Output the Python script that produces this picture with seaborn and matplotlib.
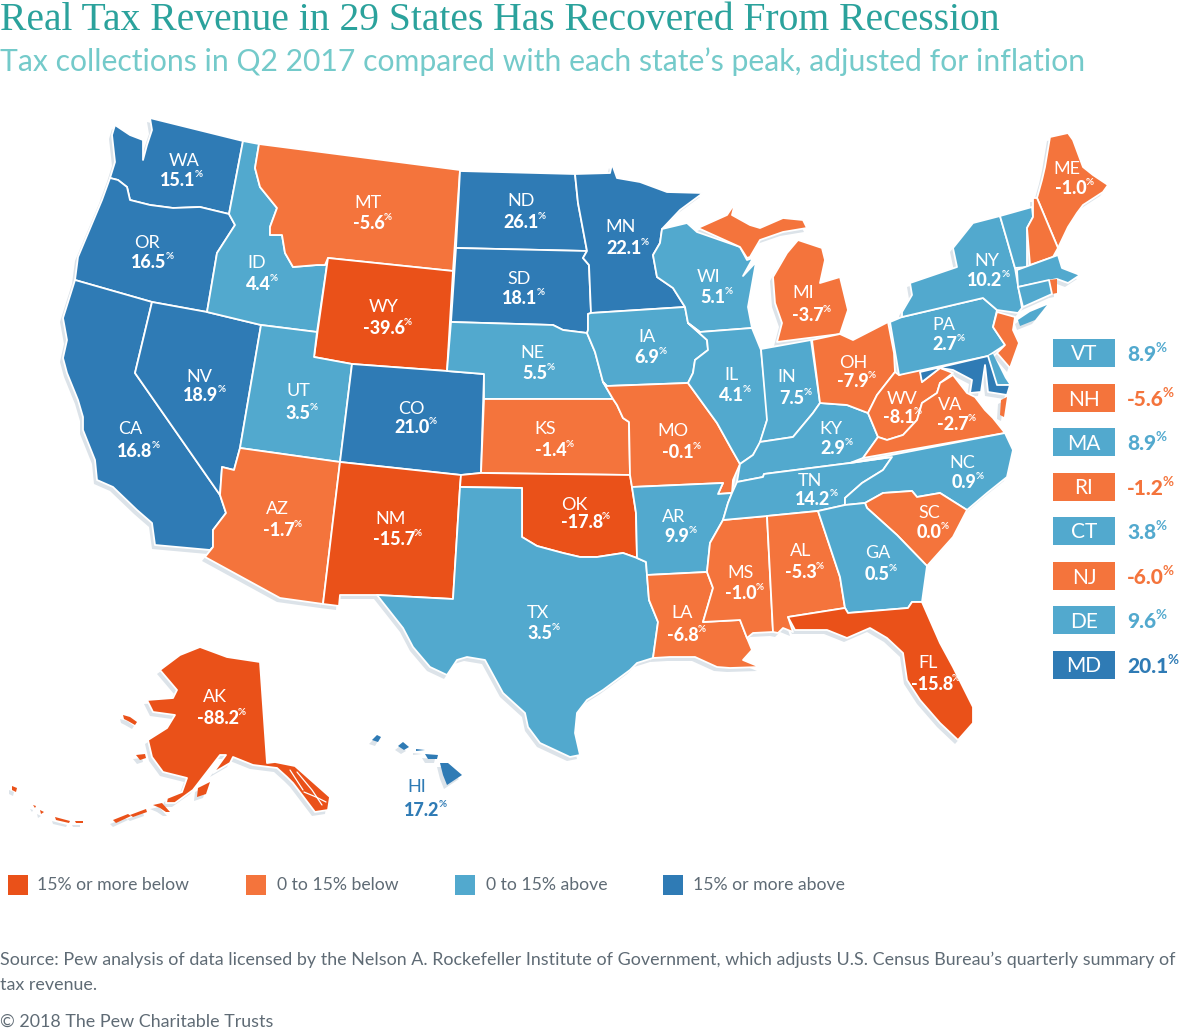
import numpy as np
import pandas as pd
import seaborn as sns
import matplotlib.pyplot as plt

# Values
states = ["WA", "OR", "CA", "NV", "ID", "MT", "WY", "UT", "CO", "AZ", "NM", "ND", "SD", "NE", "KS", "OK", "TX",
          "MN", "IA", "MO", "AR", "LA", "WI", "IL", "MS", "MI", "IN", "KY", "TN", "AL", "OH", "WV", "VA", "NC",
          "SC", "GA", "FL", "PA", "NY", "ME", "AK", "HI", "VT", "NH", "MA", "RI", "CT", "NJ", "DE", "MD"]
values = [15.1, 16.5, 16.8, 18.9, 4.4, -5.6, -39.6, 3.5, 21.0, -1.7, -15.7, 26.1, 18.1, 5.5, -1.4, -17.8, 3.5,
          22.1, 6.9, -0.1, 9.9, -6.8, 5.1, 4.1, -1.0, -3.7, 7.5, 2.9, 14.2, -5.3, -7.9, -8.1, -2.7, 0.9,
          0.0, 0.5, -15.8, 2.7, 10.2, -1.0, -88.2, 17.2, 8.9, -5.6, 8.9, -1.2, 3.8, -6.0, 9.6, 20.1]
side_states = ["VT", "NH", "MA", "RI", "CT", "NJ", "DE", "MD"]
bin_edges = [-100, -15, 0, 15, 100]
bin_labels = ["15% or more below", "0 to 15% below", "0 to 15% above", "15% or more above"]
bin_colors = ["#EA5119", "#F4743C", "#52A9CE", "#2F7BB5"]

# State outlines, in pixels
WA = [[(115,125),(130,135),(143,140),(143,160),(147,145),(152,130),(150,118),(243,141),(229,214),(200,207),(173,208),(150,205),(130,200),(127,187),(118,180),(110,178),(115,162),(112,135)]]
OR = [[(110,178),(118,180),(127,187),(130,200),(150,205),(173,208),(200,207),(229,214),(235,225),(217,253),(207,312),(152,302),(75,280),(78,257),(102,200)]]
CA = [[(75,280),(152,302),(135,373),(220,495),(226,513),(213,530),(213,547),(210,550),(155,545),(152,523),(137,510),(113,487),(97,480),(95,460),(83,430),(83,417),(78,400),(67,373),(63,358),(67,340),(63,318)]]
NV = [[(152,302),(207,312),(261,325),(240,448),(234,470),(222,467),(220,495),(135,373)]]
ID = [[(243,141),(259,144),(255,168),(260,187),(277,208),(270,227),(270,235),(282,235),(285,253),(293,267),(317,265),(325,265),(328,258),(317,332),(261,325),(207,312),(217,253),(235,225),(229,214)]]
MT = [[(259,144),(460,170),(453,271),(328,258),(325,265),(317,265),(293,267),(285,253),(282,235),(270,235),(270,227),(277,208),(260,187),(255,168)]]
WY = [[(328,258),(453,271),(447,371),(352,364),(314,357)]]
UT = [[(261,325),(317,332),(314,357),(352,364),(340,462),(240,448)]]
CO = [[(352,364),(447,371),(484,374),(481,473),(461,475),(340,462)]]
AZ = [[(240,448),(340,462),(323,604),(280,598),(205,557),(213,547),(213,530),(226,513),(220,495),(222,467),(234,470)]]
NM = [[(340,462),(461,475),(460,487),(453,599),(377,595),(340,595),(339,606),(323,604)]]
ND = [[(460,171),(575,174),(578,203),(587,251),(456,248)]]
SD = [[(456,248),(587,251),(583,258),(589,265),(591,313),(588,314),(588,330),(587,333),(563,330),(553,325),(451,322)]]
NE = [[(451,322),(553,325),(563,330),(587,333),(595,352),(603,382),(613,399),(484,399),(484,374),(447,371)]]
KS = [[(484,399),(613,399),(617,405),(623,418),(629,422),(630,475),(481,473),(484,399)]]
OK = [[(461,475),(481,473),(630,475),(632,487),(636,513),(637,558),(623,553),(597,557),(580,557),(563,553),(537,546),(522,537),(522,488),(460,487)]]
TX = [[(460,487),(522,488),(522,537),(537,546),(563,553),(580,557),(597,557),(623,553),(637,558),(646,562),(647,575),(649,600),(658,622),(653,658),(637,663),(630,670),(603,690),(587,700),(577,713),(575,733),(580,755),(570,757),(540,743),(528,727),(525,713),(503,693),(485,660),(467,657),(457,660),(447,675),(430,667),(413,647),(403,628),(377,595),(453,599)]]
MN = [[(575,174),(610,173),(612,164),(617,178),(640,182),(667,192),(703,193),(680,210),(662,229),(660,243),(653,255),(657,277),(673,288),(685,307),(591,313),(589,265),(583,258),(587,251),(578,203)]]
IA = [[(588,314),(591,313),(685,307),(688,323),(707,340),(708,350),(695,360),(693,373),(688,383),(607,386),(603,382),(595,352),(587,333),(588,330)]]
MO = [[(607,386),(688,383),(717,423),(732,450),(740,464),(733,480),(732,493),(718,494),(723,483),(632,487),(630,475),(629,422),(623,418),(617,405),(613,399),(603,382)]]
AR = [[(632,487),(723,483),(718,494),(732,493),(728,503),(723,520),(710,543),(707,572),(647,575),(646,562),(637,558),(636,513)]]
LA = [[(647,575),(707,572),(713,588),(703,622),(740,620),(747,638),(752,650),(743,660),(760,667),(730,668),(717,667),(695,657),(670,657),(653,658),(658,622),(649,600)]]
WI = [[(662,229),(687,223),(697,232),(740,247),(747,260),(753,258),(743,276),(756,262),(748,307),(752,328),(700,332),(688,323),(685,307),(673,288),(657,277),(653,255),(660,243)]]
IL = [[(700,332),(752,328),(761,350),(768,417),(760,443),(753,455),(740,464),(732,450),(717,423),(688,383),(693,373),(695,360),(708,350),(707,340),(688,323)]]
MS = [[(723,520),(767,516),(773,632),(753,633),(747,638),(740,620),(703,622),(713,588),(707,572),(710,543)]]
MI = [[(698,228),(727,215),(735,203),(732,215),(750,225),(760,228),(783,218),(803,220),(807,228),(783,232),(760,240),(750,257),(747,258),(740,247)],
      [(777,342),(840,334),(848,310),(840,277),(830,280),(820,283),(825,260),(822,248),(798,240),(787,253),(773,277),(775,303),(782,323)]]
IN = [[(761,349),(811,340),(820,403),(813,413),(793,437),(760,442),(767,420)]]
KY = [[(740,464),(753,455),(760,442),(793,437),(813,413),(820,403),(847,405),(868,413),(878,437),(863,458),(850,463),(764,474),(763,477),(737,482)]]
TN = [[(723,520),(728,503),(732,493),(737,482),(763,477),(764,474),(850,463),(892,457),(883,470),(862,483),(845,498),(845,505),(818,511),(767,516)]]
AL = [[(767,516),(818,511),(840,577),(845,608),(788,617),(793,632),(783,628),(778,633),(773,632)]]
OH = [[(812,340),(840,334),(853,340),(888,322),(894,353),(895,372),(877,395),(868,413),(847,405),(820,403)]]
WV = [[(895,372),(899,375),(920,368),(922,382),(940,368),(953,373),(940,383),(937,393),(922,403),(917,420),(903,435),(887,440),(878,437),(868,413),(877,395)]]
VA = [[(863,458),(1005,433),(993,418),(985,410),(975,397),(967,393),(953,375),(940,383),(937,393),(922,403),(917,420),(903,435),(887,440),(878,437)],
      [(1007,397),(1004,417),(1000,415),(1001,400)]]
NC = [[(850,463),(1005,433),(1013,450),(1007,477),(987,493),(967,510),(940,493),(917,497),(912,491),(883,493),(865,503),(845,505),(845,498),(862,483),(883,470),(892,457)]]
SC = [[(865,503),(883,493),(912,491),(917,497),(940,493),(967,510),(953,537),(927,566),(897,535),(867,508)]]
GA = [[(818,511),(845,505),(865,503),(867,508),(897,535),(927,566),(922,602),(912,602),(908,608),(848,613),(845,608),(840,577)]]
FL = [[(788,617),(845,608),(848,613),(908,608),(912,602),(922,602),(940,643),(953,667),(973,707),(973,723),(958,740),(940,723),(920,700),(907,680),(903,653),(887,638),(870,628),(847,638),(827,630),(795,630)]]
PA = [[(890,322),(902,317),(983,298),(997,310),(993,327),(1005,345),(988,356),(899,375)]]
NY = [[(902,317),(902,312),(912,295),(910,283),(957,267),(953,248),(973,223),(1000,216),(1007,240),(1015,268),(1022,308),(1018,313),(997,310),(983,298)],
      [(1018,320),(1030,312),(1047,305),(1035,320),(1020,326)]]
VT = [[(1000,216),(1032,207),(1033,217),(1027,228),(1027,267),(1015,268),(1007,240)]]
NH = [[(1033,198),(1037,198),(1058,248),(1053,257),(1030,265),(1027,228),(1033,217)]]
ME = [[(1037,198),(1042,180),(1045,167),(1050,137),(1068,133),(1073,140),(1083,167),(1093,175),(1108,185),(1103,192),(1083,205),(1077,213),(1068,227),(1058,248)]]
MA = [[(1017,270),(1058,255),(1062,268),(1080,275),(1068,283),(1057,279),(1018,287)]]
CT = [[(1018,287),(1049,280),(1052,294),(1023,307)]]
RI = [[(1049,280),(1057,279),(1057,293),(1052,294)]]
NJ = [[(997,312),(1015,317),(1013,330),(1019,343),(1010,368),(997,353),(1005,345),(993,327)]]
DE = [[(988,356),(993,354),(1005,378),(1009,384),(997,385),(993,372)]]
MD = [[(920,372),(988,356),(993,372),(997,385),(1010,385),(1007,395),(988,392),(985,365),(981,392),(970,393),(972,380),(953,370),(940,368),(922,382)]]
AK = [[(200,647),(180,655),(160,670),(177,690),(173,698),(147,700),(153,712),(175,715),(167,728),(148,740),(152,757),(163,772),(187,778),(182,792),(167,798),(166,803),(175,803),(193,790),(203,777),(220,755),(226,755),(213,773),(230,763),(233,757),(253,765),(277,768),(287,777),(293,783),(315,812),(328,810),(330,797),(295,766),(275,762),(267,763),(260,662),(227,657)],
      [(210,782),(206,794),(197,797),(198,788)],
      [(123,715),(130,717),(137,722),(135,725),(128,721),(124,719)],
      [(136,755),(145,754),(146,758),(140,760)],
      [(113,820),(128,814),(131,816),(116,823)],
      [(130,815),(146,809),(147,812),(133,817)],
      [(55,817),(70,821),(69,823),(56,820)],
      [(75,821),(83,821),(83,823),(76,823)],
      [(153,805),(162,803),(170,812),(166,812),(160,808)],
      [(12,786),(17,788),(16,792),(12,790)],
      [(33,805),(36,806),(35,808)],
      [(40,810),(44,812),(41,814)]]
HI = [[(440,763),(448,763),(462,775),(447,785),(443,775)],
      [(425,754),(438,755),(437,759),(428,759)],
      [(416,749),(425,750),(416,751)],
      [(398,746),(403,742),(409,747),(404,750)],
      [(372,740),(377,735),(381,737),(378,742)]]
# inner waterways of the Alaska panhandle, white strokes over the land
AK_CHANNELS = [[(297,772),(312,790),(322,805)], [(304,792),(316,797),(326,802)], [(290,770),(303,790)]]

# Where each label sits, abbreviation first, then the value
label_xy = {"WA": (184,160,178,179), "OR": (147,241,149,261), "ID": (257,261,258,283), "MT": (368,201,369,222),
            "WY": (384,305,384,327), "ND": (521,200,521,221), "SD": (519,277,520,297), "MN": (621,226,624,247),
            "WI": (709,276,713,296), "IA": (647,336,647,356), "NE": (532,351,535,372), "NV": (199,375,201,394),
            "UT": (298,390,298,412), "CO": (411,407,412,426), "CA": (130,428,135,450), "AZ": (277,507,279,529),
            "NM": (391,517,394,538), "KS": (545,427,551,449), "MO": (673,430,678,451), "OK": (574,503,582,521),
            "AR": (674,515,677,535), "TX": (538,611,540,632), "LA": (682,611,683,634), "MS": (741,572,741,592),
            "AL": (801,550,801,571), "GA": (878,552,877,573), "SC": (929,512,929,531), "FL": (928,661,932,683),
            "NC": (962,461,964,481), "TN": (810,480,813,498), "KY": (831,428,833,447), "VA": (950,403,953,423),
            "WV": (902,398,899,416), "OH": (853,361,853,380), "IN": (787,375,792,397), "IL": (731,373,731,394),
            "MI": (803,291,808,314), "PA": (944,324,945,343), "NY": (987,259,985,279), "ME": (1067,168,1071,187),
            "AK": (215,695,218,717), "HI": (417,785,422,809)}

shapes = {"WA": WA, "OR": OR, "CA": CA, "NV": NV, "ID": ID, "MT": MT, "WY": WY, "UT": UT, "CO": CO, "AZ": AZ,
          "NM": NM, "ND": ND, "SD": SD, "NE": NE, "KS": KS, "OK": OK, "TX": TX, "MN": MN, "IA": IA, "MO": MO,
          "AR": AR, "LA": LA, "WI": WI, "IL": IL, "MS": MS, "MI": MI, "IN": IN, "KY": KY, "TN": TN, "AL": AL,
          "OH": OH, "WV": WV, "VA": VA, "NC": NC, "SC": SC, "GA": GA, "FL": FL, "PA": PA, "NY": NY, "ME": ME,
          "AK": AK, "HI": HI, "VT": VT, "NH": NH, "MA": MA, "RI": RI, "CT": CT, "NJ": NJ, "DE": DE, "MD": MD}

sns.set_theme(style="white")
plt.rcParams["font.family"] = ["Lato", "DejaVu Sans"]

df = pd.DataFrame({"state": states, "value": values})
df["bin"] = pd.cut(df["value"], bins=bin_edges, labels=bin_labels)
palette = dict(zip(bin_labels, bin_colors))
df["color"] = df["bin"].map(palette).astype(str)

fig = plt.figure(figsize=(12, 10.3), dpi=100)
ax = fig.add_axes([0, 0, 1, 1])
ax.set_xlim(0, 1200)
ax.set_ylim(1030, 0)
ax.axis("off")

# soft shadow down and to the left of the land
for rings in shapes.values():
    for ring in rings:
        pts = np.array(ring)
        ax.fill(pts[:, 0] - 3, pts[:, 1] + 4, color="#DCE3E9", lw=0, zorder=1)

for _, row in df.iterrows():
    for ring in shapes[row["state"]]:
        pts = np.array(ring)
        area = 0.5 * abs(np.dot(pts[:, 0], np.roll(pts[:, 1], 1)) - np.dot(pts[:, 1], np.roll(pts[:, 0], 1)))
        # tiny islands would vanish under a white edge
        lw = 1.3 if area > 300 else 0
        ax.fill(pts[:, 0], pts[:, 1], facecolor=row["color"], edgecolor="white", lw=lw, joinstyle="round", zorder=2)

for line in AK_CHANNELS:
    pts = np.array(line)
    ax.plot(pts[:, 0], pts[:, 1], color="white", lw=0.9, zorder=3)

# Lato sits a little high with va="center"
dy = 1.5


def value_label(x, y, val, color="white", size=13, ha="center", pct=0.55):
    t = ax.text(x, y + dy, f"{val:.1f}", color=color, fontsize=size, fontweight="black", ha=ha, va="center", zorder=4)
    box = t.get_window_extent(fig.canvas.get_renderer())
    right = ax.transData.inverted().transform((box.x1, box.y1))[0]
    ax.text(right - 1, y + dy - size * 0.45, "%", color=color, fontsize=size * pct, fontweight="bold", ha="left", va="center", zorder=4)


for state, (ab_x, ab_y, vx, vy) in label_xy.items():
    val = df.loc[df["state"] == state, "value"].iloc[0]
    color = "white" if state != "HI" else bin_colors[3]
    ax.text(ab_x, ab_y + dy, state, color=color, fontsize=13, ha="center", va="center", zorder=4)
    value_label(vx, vy, val, color=color)

# small northeast states listed beside the map
chip_tops = [339, 384, 428, 473, 517, 562, 606, 651]
for state, top in zip(side_states, chip_tops):
    rec = df[df["state"] == state].iloc[0]
    ax.add_patch(plt.Rectangle((1053, top), 62, 28, color=rec["color"], lw=0, zorder=2))
    ax.text(1084, top + 14 + dy, state, color="white", fontsize=15, ha="center", va="center", zorder=3)
    value_label(1127, top + 14, rec["value"], color=rec["color"], size=15, ha="left", pct=0.65)

# legend row
legend_df = pd.DataFrame({"x": [18, 256, 465, 673], "y": [885] * 4, "bin": bin_labels})
sns.scatterplot(data=legend_df, x="x", y="y", hue="bin", palette=palette, marker="s", s=205, lw=0, legend=False, ax=ax, zorder=3)
ax.set_xlim(0, 1200)
ax.set_ylim(1030, 0)
ax.axis("off")
for x, lab in zip([37, 277, 486, 693], bin_labels):
    ax.text(x, 884 + dy, lab, color="#5F6B75", fontsize=12.7, ha="left", va="center")

ax.text(0, 20, "Real Tax Revenue in 29 States Has Recovered From Recession", color="#2BA29C", fontsize=28.5,
        family="Liberation Serif", ha="left", va="center")
ax.text(0, 62, "Tax collections in Q2 2017 compared with each state\u2019s peak, adjusted for inflation", color="#74CACA",
        fontsize=21.7, ha="left", va="center")
ax.text(0, 958 + dy, "Source: Pew analysis of data licensed by the Nelson A. Rockefeller Institute of Government, which adjusts U.S. Census Bureau\u2019s quarterly summary of",
        color="#5F6B75", fontsize=12.87, ha="left", va="center")
ax.text(0, 984 + dy, "tax revenue.", color="#5F6B75", fontsize=12.87, ha="left", va="center")
ax.text(0, 1020 + dy, "\u00a9 2018 The Pew Charitable Trusts", color="#5F6B75", fontsize=12.87, ha="left", va="center")

fig.savefig("out.png", dpi=100)
